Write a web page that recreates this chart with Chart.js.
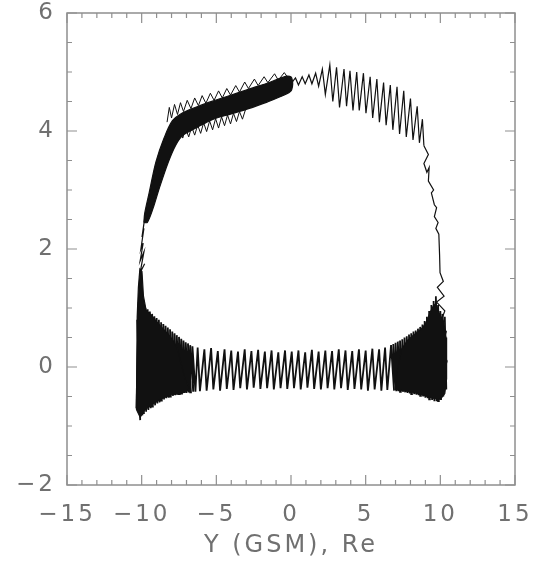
<!DOCTYPE html>
<html>
<head>
<meta charset="utf-8">
<title>Y (GSM), Re</title>
<script src="https://cdn.jsdelivr.net/npm/chart.js@4/dist/chart.umd.min.js"></script>
<style>
  html, body { margin: 0; padding: 0; background: #fff; }
  #plot { display: block; }
</style>
</head>
<body>
<canvas id="plot" width="535" height="562"></canvas>
<script>
// ---------- trajectory pieces, [Y, Z] in Re ----------

// solid band on the upper-left: outer edge up, inner edge back down
const thickBand = [
  [-9.85, 2.45], [-9.8, 2.6], [-9.5, 2.95], [-9.05, 3.47], [-8.5, 3.88],
  [-7.95, 4.17], [-7.25, 4.31], [-6.2, 4.42], [-5.2, 4.51], [-4.0, 4.61],
  [-2.95, 4.7], [-1.6, 4.81], [-0.27, 4.93], [0.05, 4.9],
  [0.05, 4.7], [-0.27, 4.63], [-1.6, 4.49], [-2.95, 4.37], [-4.0, 4.29],
  [-5.2, 4.2], [-6.3, 4.06], [-7.23, 3.93], [-7.72, 3.76], [-8.22, 3.47],
  [-8.82, 3.03], [-9.25, 2.68], [-9.62, 2.45], [-9.85, 2.45]
];

// small loops poking out above the band
const bandTopFringe = [
  [-8.3, 4.15], [-8.15, 4.4], [-8.0, 4.22], [-7.8, 4.45], [-7.6, 4.28],
  [-7.4, 4.48], [-7.2, 4.33], [-6.95, 4.52], [-6.7, 4.38], [-6.45, 4.56],
  [-6.2, 4.43], [-5.95, 4.6], [-5.7, 4.47], [-5.4, 4.64], [-5.15, 4.52],
  [-4.85, 4.68], [-4.6, 4.56], [-4.3, 4.72], [-4.05, 4.61], [-3.7, 4.77],
  [-3.45, 4.66], [-3.1, 4.83], [-2.85, 4.72], [-2.45, 4.88], [-2.2, 4.77],
  [-1.8, 4.92], [-1.55, 4.82], [-1.1, 4.97], [-0.85, 4.86], [-0.45, 4.99],
  [-0.2, 4.9]
];

// short hooks hanging under the band
const bandLowFringe = [
  [-7.4, 4.02], [-7.25, 3.88], [-7.05, 4.04], [-6.85, 3.9], [-6.65, 4.07],
  [-6.45, 3.93], [-6.25, 4.1], [-6.05, 3.96], [-5.85, 4.14], [-5.65, 3.99],
  [-5.45, 4.17], [-5.25, 4.02], [-5.05, 4.21], [-4.85, 4.05], [-4.65, 4.24],
  [-4.45, 4.09], [-4.25, 4.27], [-4.05, 4.12], [-3.85, 4.3], [-3.65, 4.16],
  [-3.45, 4.33], [-3.25, 4.2], [-3.05, 4.36]
];

// bounce loops across the top right, drifting down toward dusk
const topRightLoops = [
  [0.05, 4.82], [0.3, 4.9], [0.5, 4.78], [0.75, 4.92], [0.95, 4.8],
  [1.2, 4.95], [1.4, 4.8], [1.65, 4.98], [1.85, 4.76], [2.1, 5.05],
  [2.3, 4.62], [2.6, 5.12], [2.8, 4.5], [3.05, 5.08], [3.25, 4.4],
  [3.55, 5.05], [3.72, 4.42], [3.95, 5.02], [4.15, 4.35], [4.4, 5.0],
  [4.57, 4.35], [4.85, 4.98], [5.02, 4.3], [5.3, 4.92], [5.47, 4.22],
  [5.75, 4.88], [5.92, 4.15], [6.2, 4.82], [6.37, 4.1], [6.65, 4.78],
  [6.82, 4.02], [7.1, 4.75], [7.27, 3.95], [7.55, 4.68], [7.72, 3.9],
  [8.0, 4.55], [8.17, 3.85], [8.45, 4.42], [8.6, 3.8], [8.8, 4.2],
  [8.9, 3.75]
];

// descent along the dusk flank
const rightChain = [
  [8.9, 3.75], [9.2, 3.6], [8.9, 3.45], [9.1, 3.3], [9.25, 3.38],
  [9.2, 3.15], [9.55, 3.0], [9.4, 2.95], [9.6, 2.75], [9.75, 2.7],
  [9.6, 2.55], [9.85, 2.45], [9.7, 2.35], [9.9, 2.25], [9.95, 1.9],
  [9.98, 1.6], [10.2, 1.45], [9.8, 1.35], [10.25, 1.2], [9.75, 1.1],
  [10.3, 0.95], [10.0, 0.75], [10.4, 0.6], [10.1, 0.3], [10.45, 0.1],
  [10.15, -0.2], [10.4, -0.35]
];

// ascent along the dawn flank
const leftChain = [
  [-10.1, 1.6], [-9.8, 1.75], [-10.1, 1.6], [-9.85, 1.95], [-10.1, 1.8],
  [-9.9, 2.1], [-10.05, 2.0], [-9.85, 2.35], [-9.98, 2.2], [-9.78, 2.55]
];

// where the bounces pile up near dawn and dusk
const dawnCluster = [
  [-10.35, -0.72], [-10.3, 0.85], [-10.22, 1.35], [-10.12, 1.66], [-9.98, 1.62],
  [-9.88, 1.2], [-9.7, 0.96], [-9.4, 0.89], [-9.1, 0.8], [-8.8, 0.71],
  [-8.5, 0.63], [-8.2, 0.55], [-7.9, 0.45], [-7.6, 0.3], [-7.4, 0.1],
  [-7.1, -0.2], [-6.8, -0.36], [-7.0, -0.42], [-7.5, -0.45], [-8.0, -0.47],
  [-8.6, -0.53], [-9.2, -0.62], [-9.8, -0.73], [-10.1, -0.85], [-10.35, -0.72]
];

const duskCluster = [
  [7.4, 0.3], [7.8, 0.45], [8.2, 0.54], [8.5, 0.6], [8.8, 0.66],
  [9.1, 0.78], [9.3, 0.92], [9.5, 1.02], [9.7, 1.08], [9.9, 0.92],
  [10.2, 0.78], [10.38, 0.5], [10.42, -0.2], [10.3, -0.45], [10.0, -0.55],
  [9.5, -0.53], [9.0, -0.49], [8.5, -0.45], [8.0, -0.42], [7.4, -0.4],
  [7.0, -0.38], [7.1, -0.1], [7.4, 0.3]
];

// bounce motion along the bottom, from dawn (left) to dusk (right)
const bottomBand = [
  [-10.15, 1.18], [-10.35, -0.7], [-10.2, 1.1], [-10.1, -0.9], [-10.3, 0.8],
  [-9.95, -0.82], [-10.0, 1.1], [-9.85, -0.78], [-9.9, 1.05], [-9.7, -0.76],
  [-9.75, 1.0], [-9.55, -0.73], [-9.6, 0.98], [-9.4, -0.7], [-9.45, 0.94],
  [-9.25, -0.67], [-9.3, 0.9], [-9.1, -0.65], [-9.15, 0.86], [-8.95, -0.62],
  [-9.0, 0.83], [-8.8, -0.6], [-8.85, 0.8], [-8.65, -0.57], [-8.7, 0.76],
  [-8.5, -0.55], [-8.55, 0.73], [-8.35, -0.53], [-8.4, 0.7], [-8.2, -0.52],
  [-8.25, 0.67], [-8.05, -0.5], [-8.1, 0.64], [-7.9, -0.49], [-7.95, 0.6],
  [-7.75, -0.48], [-7.8, 0.57], [-7.6, -0.47], [-7.65, 0.54], [-7.45, -0.46],
  [-7.5, 0.51], [-7.3, -0.45], [-7.35, 0.48], [-7.15, -0.44], [-7.2, 0.45],
  [-7.0, -0.44], [-7.05, 0.42], [-6.85, -0.43], [-6.9, 0.4], [-6.7, -0.43],
  [-6.75, 0.37], [-6.55, -0.42], [-6.6, 0.35], [-6.4, -0.42],
  [-6.25, 0.33], [-6.1, -0.41], [-5.8, 0.3], [-5.65, -0.4], [-5.35, 0.32],
  [-5.2, -0.38], [-4.9, 0.27], [-4.75, -0.4], [-4.45, 0.3], [-4.3, -0.37],
  [-4.0, 0.28], [-3.85, -0.39], [-3.55, 0.26], [-3.4, -0.36], [-3.1, 0.3],
  [-2.95, -0.38], [-2.65, 0.27], [-2.5, -0.35], [-2.2, 0.29], [-2.05, -0.37],
  [-1.75, 0.26], [-1.6, -0.36], [-1.3, 0.28], [-1.15, -0.38], [-0.85, 0.25],
  [-0.7, -0.36], [-0.4, 0.28], [-0.25, -0.37], [0.05, 0.26], [0.2, -0.36],
  [0.5, 0.28], [0.65, -0.38], [0.95, 0.25], [1.1, -0.35], [1.4, 0.29],
  [1.55, -0.37], [1.85, 0.26], [2.0, -0.38], [2.3, 0.28], [2.45, -0.36],
  [2.75, 0.27], [2.9, -0.38], [3.2, 0.3], [3.35, -0.36], [3.65, 0.28],
  [3.8, -0.39], [4.1, 0.27], [4.25, -0.37], [4.55, 0.3], [4.7, -0.38],
  [5.0, 0.28], [5.15, -0.4], [5.45, 0.31], [5.6, -0.38], [5.9, 0.3],
  [6.05, -0.4], [6.3, 0.33], [6.45, -0.39],
  [6.7, 0.37], [6.9, -0.4], [6.85, 0.39], [7.05, -0.41], [7.0, 0.41],
  [7.2, -0.41], [7.15, 0.43], [7.35, -0.42], [7.3, 0.45], [7.5, -0.42],
  [7.45, 0.47], [7.65, -0.43], [7.6, 0.5], [7.8, -0.44], [7.75, 0.52],
  [7.95, -0.45], [7.9, 0.55], [8.1, -0.46], [8.05, 0.57], [8.25, -0.46],
  [8.2, 0.6], [8.4, -0.47], [8.35, 0.62], [8.55, -0.48], [8.5, 0.65],
  [8.7, -0.49], [8.65, 0.68], [8.85, -0.5], [8.8, 0.72], [9.0, -0.52],
  [8.95, 0.78], [9.15, -0.53], [9.1, 0.85], [9.3, -0.55], [9.25, 0.95],
  [9.45, -0.56], [9.4, 1.05], [9.6, -0.58], [9.55, 1.12], [9.75, -0.58],
  [9.7, 1.2], [9.9, -0.58], [9.85, 1.05], [10.05, -0.56], [10.0, 0.95],
  [10.2, -0.5], [10.15, 0.9], [10.4, -0.38], [10.3, 0.85]
];

// axes
const xRange = [-15, 15];
const yRange = [-2, 6];
const xTickValues = [-15, -10, -5, 0, 5, 10, 15];
const yTickValues = [-2, 0, 2, 4, 6];
const xMinorStep = 1;
const yMinorStep = 0.5;
const xTitle = "Y (GSM), Re";

// ---------- helpers ----------
const INK = "#111";
const FRAME = "#8f8f8f";
const LABEL = "#707070";

function toPoints(pairs) {
  return pairs.map(([x, y]) => ({ x, y }));
}

function traceSet(pairs, width) {
  return {
    data: toPoints(pairs),
    showLine: true,
    borderColor: INK,
    borderWidth: width,
    pointRadius: 0,
    tension: 0,
    fill: false,
  };
}

function blobSet(pairs, smooth) {
  return {
    data: toPoints(pairs),
    showLine: true,
    borderColor: INK,
    borderWidth: 1.2,
    backgroundColor: INK,
    pointRadius: 0,
    tension: smooth,
    fill: "shape",
  };
}

function fmtTick(v) {
  return String(v).replace("-", "\u2212");
}

function stepsBetween(min, max, step) {
  const out = [];
  for (let v = min; v <= max + 1e-9; v += step) out.push(+v.toFixed(3));
  return out;
}

// frame with inward ticks on all four sides
const frameTicks = {
  id: "frameTicks",
  beforeDraw(chart) {
    chart.ctx.letterSpacing = "3px";
  },
  afterDatasetsDraw(chart) {
    const { ctx, chartArea: a, scales } = chart;
    const sx = scales.x, sy = scales.y;
    ctx.save();
    ctx.strokeStyle = FRAME;
    ctx.lineWidth = 1.5;
    ctx.strokeRect(a.left, a.top, a.right - a.left, a.bottom - a.top);
    ctx.lineWidth = 1.2;
    ctx.beginPath();
    for (const v of stepsBetween(xRange[0], xRange[1], xMinorStep)) {
      const len = xTickValues.includes(v) ? 10 : 5;
      const px = sx.getPixelForValue(v);
      ctx.moveTo(px, a.bottom); ctx.lineTo(px, a.bottom - len);
      ctx.moveTo(px, a.top); ctx.lineTo(px, a.top + len);
    }
    for (const v of stepsBetween(yRange[0], yRange[1], yMinorStep)) {
      const len = yTickValues.includes(v) ? 10 : 5;
      const py = sy.getPixelForValue(v);
      ctx.moveTo(a.left, py); ctx.lineTo(a.left + len, py);
      ctx.moveTo(a.right, py); ctx.lineTo(a.right - len, py);
    }
    ctx.stroke();
    ctx.restore();
  },
};

// ---------- chart ----------
const datasets = [
  blobSet(thickBand, 0.3),
  blobSet(dawnCluster, 0),
  blobSet(duskCluster, 0),
  traceSet(bandTopFringe, 1),
  traceSet(bandLowFringe, 1),
  traceSet(topRightLoops, 1.2),
  traceSet(rightChain, 1.2),
  traceSet(leftChain, 1.2),
  traceSet(bottomBand, 1.8),
];

const tickFont = { family: "'DejaVu Sans', sans-serif", size: 23 };

new Chart(document.getElementById("plot"), {
  type: "scatter",
  data: { datasets },
  plugins: [frameTicks],
  options: {
    responsive: false,
    animation: false,
    events: [],
    layout: { padding: { top: 13, right: 20, left: 0, bottom: 0 } },
    plugins: { legend: { display: false }, tooltip: { enabled: false } },
    scales: {
      x: {
        type: "linear",
        min: xRange[0],
        max: xRange[1],
        grid: { display: false, drawTicks: false },
        border: { display: false },
        afterBuildTicks: (s) => { s.ticks = xTickValues.map((v) => ({ value: v })); },
        afterFit: (s) => { s.height = 77; s.paddingLeft = 0; s.paddingRight = 0; },
        ticks: {
          autoSkip: false,
          maxRotation: 0,
          padding: 16,
          color: LABEL,
          font: tickFont,
          callback: fmtTick,
        },
        title: {
          display: true,
          text: xTitle,
          color: LABEL,
          font: { family: "'DejaVu Sans', sans-serif", size: 24 },
          padding: { top: 0, bottom: 2 },
        },
      },
      y: {
        type: "linear",
        min: yRange[0],
        max: yRange[1],
        grid: { display: false, drawTicks: false },
        border: { display: false },
        afterBuildTicks: (s) => { s.ticks = yTickValues.map((v) => ({ value: v })); },
        afterFit: (s) => { s.width = 67; s.paddingTop = 0; s.paddingBottom = 0; },
        ticks: {
          autoSkip: false,
          padding: 11,
          color: LABEL,
          font: tickFont,
          callback: fmtTick,
        },
      },
    },
  },
});
</script>
</body>
</html>
